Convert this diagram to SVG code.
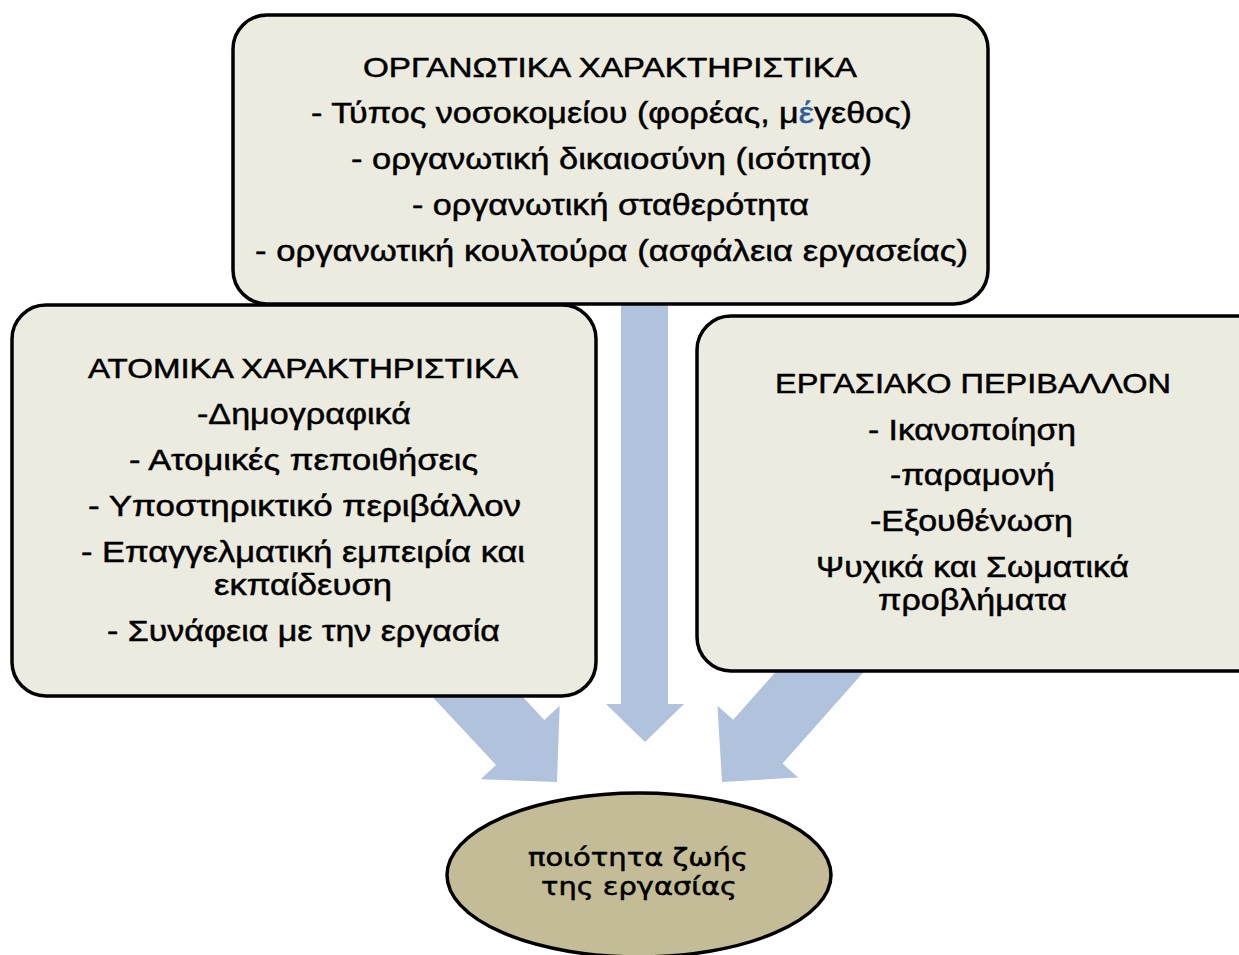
<svg xmlns="http://www.w3.org/2000/svg" width="1239" height="955" viewBox="0 0 1239 955">
<style>
.box{fill:#ecebe0;stroke:#000;stroke-width:3.5}
.ell{fill:#c4bc97;stroke:#000;stroke-width:3.5}
.arr{fill:#b1c2dd}
.t{font-family:"Liberation Sans",Arial,sans-serif;font-size:30px;fill:#000;stroke:#000;stroke-width:0.5;text-anchor:middle}
.h{font-size:28px}
.e{font-family:"DejaVu Sans",sans-serif;font-size:24px;fill:#000;stroke:#000;stroke-width:0.5;text-anchor:middle}
</style>
<defs>
<polygon id="bigArrow" points="-200,-33 -54,-33 -54,-54 0,0 -54,54 -54,33 -200,33"/>
</defs>
<rect width="1239" height="955" fill="#fff"/>
<g id="connectors">
<polygon class="arr" points="621,300 668,300 668,704 684,704 645,742 606,704 621,704"/>
<use href="#bigArrow" class="arr" transform="translate(557,782) rotate(47)"/>
<use href="#bigArrow" class="arr" transform="translate(722,782) rotate(131.6)"/>
</g>
<g id="node-org">
<rect class="box" x="233" y="15" width="755" height="289" rx="34"/>
<text class="t h" x="610" y="77" textLength="494" lengthAdjust="spacingAndGlyphs">ΟΡΓΑΝΩΤΙΚΑ ΧΑΡΑΚΤΗΡΙΣΤΙΚΑ</text>
<text class="t" x="611.5" y="123" textLength="601" lengthAdjust="spacingAndGlyphs">- Τύπος νοσοκομείου (φορέας, μ<tspan fill="#2e5c99" stroke="#2e5c99">έ</tspan>γεθος)</text>
<text class="t" x="611.5" y="169" textLength="521" lengthAdjust="spacingAndGlyphs">- οργανωτική δικαιοσύνη (ισότητα)</text>
<text class="t" x="610.5" y="215" textLength="397" lengthAdjust="spacingAndGlyphs">- οργανωτική σταθερότητα</text>
<text class="t" x="611.5" y="261" textLength="713" lengthAdjust="spacingAndGlyphs">- οργανωτική κουλτούρα (ασφάλεια εργασείας)</text>
</g>
<g id="node-atom">
<rect class="box" x="12" y="305" width="584" height="391" rx="34"/>
<text class="t h" x="303" y="378" textLength="430" lengthAdjust="spacingAndGlyphs">ΑΤΟΜΙΚΑ ΧΑΡΑΚΤΗΡΙΣΤΙΚΑ</text>
<text class="t" x="304" y="424" textLength="214" lengthAdjust="spacingAndGlyphs">-Δημογραφικά</text>
<text class="t" x="303.5" y="470" textLength="349" lengthAdjust="spacingAndGlyphs">- Ατομικές πεποιθήσεις</text>
<text class="t" x="304.5" y="516" textLength="433" lengthAdjust="spacingAndGlyphs">- Υποστηρικτικό περιβάλλον</text>
<text class="t" x="303" y="562" textLength="444" lengthAdjust="spacingAndGlyphs">- Επαγγελματική εμπειρία και</text>
<text class="t" x="303" y="595" textLength="178" lengthAdjust="spacingAndGlyphs">εκπαίδευση</text>
<text class="t" x="303.5" y="641" textLength="393" lengthAdjust="spacingAndGlyphs">- Συνάφεια με την εργασία</text>
</g>
<g id="node-env">
<rect class="box" x="697" y="316" width="580" height="355" rx="34"/>
<text class="t h" x="973" y="393" textLength="396" lengthAdjust="spacingAndGlyphs">ΕΡΓΑΣΙΑΚΟ ΠΕΡΙΒΑΛΛΟΝ</text>
<text class="t" x="972" y="440" textLength="208" lengthAdjust="spacingAndGlyphs">- Ικανοποίηση</text>
<text class="t" x="972.5" y="485" textLength="165" lengthAdjust="spacingAndGlyphs">-παραμονή</text>
<text class="t" x="971.5" y="531" textLength="203" lengthAdjust="spacingAndGlyphs">-Εξουθένωση</text>
<text class="t" x="972.5" y="577" textLength="313" lengthAdjust="spacingAndGlyphs">Ψυχικά και Σωματικά</text>
<text class="t" x="972.5" y="610" textLength="189" lengthAdjust="spacingAndGlyphs">προβλήματα</text>
</g>
<g id="node-qwl">
<ellipse class="ell" cx="639" cy="875" rx="192" ry="82"/>
<text class="e" x="638" y="866" textLength="220" lengthAdjust="spacingAndGlyphs">ποιότητα ζωής</text>
<text class="e" x="639" y="895" textLength="196" lengthAdjust="spacingAndGlyphs">της εργασίας</text>
</g>
</svg>
